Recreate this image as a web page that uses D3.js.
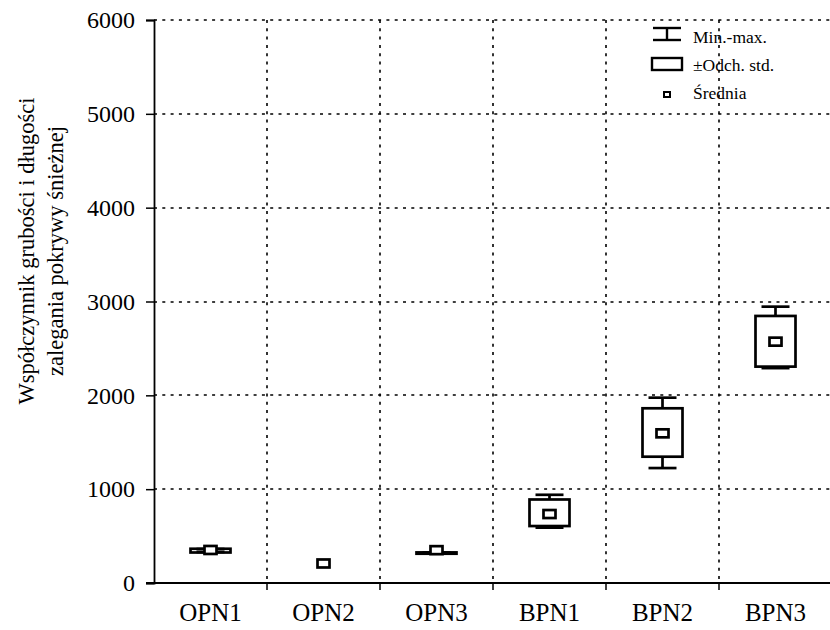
<!DOCTYPE html>
<html><head><meta charset="utf-8">
<script src="https://cdn.jsdelivr.net/npm/d3@7"></script>
<style>
body{margin:0;background:#fff;}
</style></head>
<body><svg id="c" width="830" height="630"></svg>
<script>
const categories = ["OPN1","OPN2","OPN3","BPN1","BPN2","BPN3"];
const minVals  = [330, 208, 315, 590, 1225, 2290];
const maxVals  = [362, 208, 325, 940, 1975, 2945];
const sdLow    = [325, 208, 312, 607, 1346, 2306];
const sdHigh   = [365, 208, 326, 890, 1862, 2846];
const meanVals = [352, 208, 350, 735, 1595, 2572];
const yTicks = [0,1000,2000,3000,4000,5000,6000];
const yLabelLines = ["Współczynnik grubości i długości","zalegania pokrywy śnieżnej"];
const legendItems = ["Min.-max.","±Odch. std.","Średnia"];

const FONT = "'Liberation Serif', 'Times New Roman', Times, serif";
const svg = d3.select("#c").style("font-family", FONT);
const L = 154, R = 832, T = 20, B = 583;
const x = d3.scaleBand().domain(categories).range([L, R]);
const y = d3.scaleLinear().domain([0,6000]).range([B, T]);

// grid
const grid = svg.append("g").attr("stroke","#000").attr("stroke-width",1.6).attr("stroke-dasharray","3,5.3");
grid.selectAll("line.h").data(yTicks.filter(d=>d>0)).join("line")
  .attr("x1",L).attr("x2",830).attr("y1",d=>Math.round(y(d))).attr("y2",d=>Math.round(y(d)));
grid.selectAll("line.v").data(categories.slice(1)).join("line")
  .attr("x1",d=>x(d)).attr("x2",d=>x(d)).attr("y1",T).attr("y2",B);

// axes
const yAxis = d3.axisLeft(y).tickValues(yTicks).tickSize(8).tickPadding(11).tickFormat(d3.format("d"));
const gy = svg.append("g").attr("transform",`translate(${L},0)`).call(yAxis);
gy.attr("font-family",null).attr("font-size",null);
gy.select(".domain").attr("stroke-width",1.8);
gy.selectAll(".tick line").attr("stroke-width",1.5);
gy.selectAll("text").style("font-size","24px").style("font-family",FONT);

const xAxis = d3.axisBottom(x).tickSize(0).tickPadding(20);
const gx = svg.append("g").attr("transform",`translate(0,${B})`).call(xAxis);
gx.attr("font-family",null).attr("font-size",null);
gx.select(".domain").attr("stroke-width",1.8).attr("d",`M${L-8},0H830`);
gx.selectAll("text").style("font-size","25px").style("font-family",FONT);
gx.selectAll("line.sep").data(categories.slice(1)).join("line").attr("class","sep")
  .attr("x1",d=>x(d)).attr("x2",d=>x(d)).attr("y1",0).attr("y2",7).attr("stroke","#000").attr("stroke-width",1.5);

// y label
const yl = svg.append("text").attr("transform","translate(34,251) rotate(-90)").attr("text-anchor","middle")
  .style("font-size","22.5px").style("font-family",FONT);
yl.selectAll("tspan").data(yLabelLines).join("tspan").attr("x",0).attr("dy",(d,i)=>i===0?0:29).text(d=>d);

// boxes
const boxW = 40, capW = 28, mW = 12, mH = 8;
const g = svg.append("g").attr("stroke","#000").attr("stroke-width",2.7);
categories.forEach((c,i)=>{
  const cx = x(c) + x.bandwidth()/2;
  if (maxVals[i] > minVals[i]) {
    g.append("line").attr("x1",cx).attr("x2",cx).attr("y1",y(maxVals[i])).attr("y2",y(sdHigh[i]));
    g.append("line").attr("x1",cx).attr("x2",cx).attr("y1",y(sdLow[i])).attr("y2",y(minVals[i]));
    g.append("line").attr("x1",cx-capW/2).attr("x2",cx+capW/2).attr("y1",y(maxVals[i])).attr("y2",y(maxVals[i]));
    g.append("line").attr("x1",cx-capW/2).attr("x2",cx+capW/2).attr("y1",y(minVals[i])).attr("y2",y(minVals[i]));
  }
  if (sdHigh[i] > sdLow[i]) {
    g.append("rect").attr("x",cx-boxW/2).attr("width",boxW).attr("y",y(sdHigh[i])).attr("height",y(sdLow[i])-y(sdHigh[i])).attr("fill","none");
  }
  g.append("rect").attr("x",cx-mW/2).attr("width",mW).attr("y",y(meanVals[i])-mH/2).attr("height",mH).attr("fill","#fff");
});

// legend
const lg = svg.append("g").attr("stroke","#000").attr("stroke-width",2.4);
const lx = 667;
lg.append("line").attr("x1",lx-14).attr("x2",lx+14).attr("y1",28).attr("y2",28);
lg.append("line").attr("x1",lx-14).attr("x2",lx+14).attr("y1",40).attr("y2",40);
lg.append("line").attr("x1",lx).attr("x2",lx).attr("y1",28).attr("y2",40);
lg.append("rect").attr("x",lx-15).attr("y",58).attr("width",30).attr("height",12).attr("fill","none");
lg.append("rect").attr("x",lx-3).attr("y",92).attr("width",6).attr("height",5).attr("fill","#fff").attr("stroke-width",2);
svg.selectAll("text.leg").data(legendItems).join("text").attr("class","leg")
  .attr("x",693).attr("y",(d,i)=>[43,71,99][i]).style("font-size","17.5px").style("font-family",FONT).text(d=>d);
</script></body></html>
